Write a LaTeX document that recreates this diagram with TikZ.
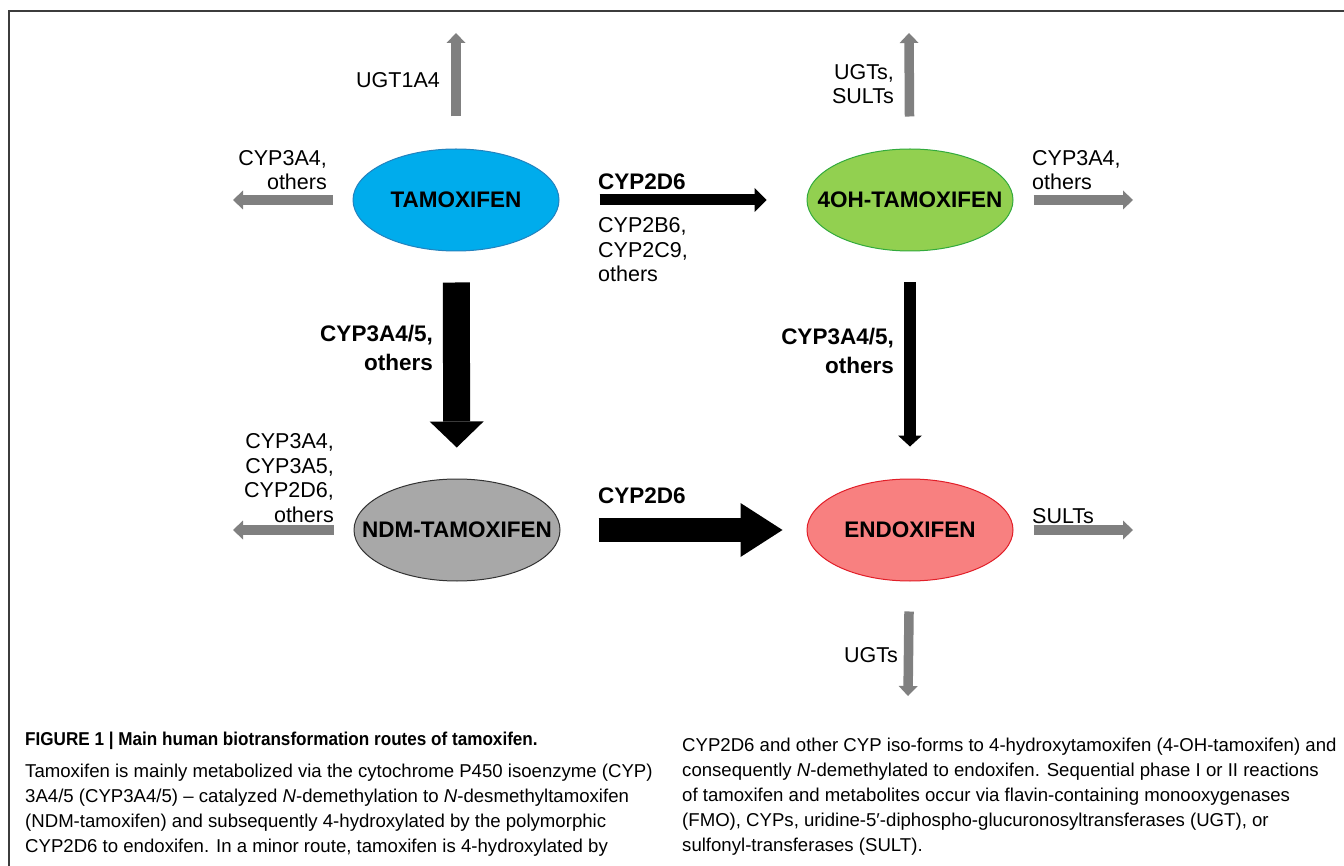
\documentclass[tikz,border=0pt]{standalone}
\usepackage{fontspec}
\setmainfont{Liberation Sans}
\usetikzlibrary{arrows.meta,shapes.geometric}

\definecolor{tamfill}{RGB}{0,172,236}
\definecolor{tamline}{RGB}{35,130,190}
\definecolor{ohfill}{RGB}{146,208,80}
\definecolor{ohline}{RGB}{50,170,60}
\definecolor{ndmfill}{RGB}{168,168,168}
\definecolor{endofill}{RGB}{248,128,128}
\definecolor{endoline}{RGB}{225,30,40}
\definecolor{sidegray}{RGB}{128,128,128}
\definecolor{framegray}{RGB}{60,60,60}

\tikzset{
  metab/.style={ellipse,draw,line width=1pt,minimum width=206pt,minimum height=102pt,
    inner xsep=-40pt,inner ysep=0pt,font=\fontsize{22.5}{27}\selectfont\bfseries},
  enz/.style={inner sep=0pt,align=right,font=\fontsize{21.5}{24.5}\selectfont},
  enzb/.style={inner sep=0pt,align=right,font=\fontsize{22.5}{28.5}\selectfont\bfseries},
  side/.style={draw=sidegray,line width=9.5pt,-{Triangle[width=19pt,length=10pt,line width=0pt]}},
  capt/.style={inner sep=0pt,align=left,font=\fontsize{18.6}{25}\selectfont}
}

\begin{document}
\begin{tikzpicture}[x=1pt,y=-1pt]

        \useasboundingbox (0,0) rectangle (1344,866);
        \draw[framegray,line width=1.5pt] (9,866) -- (9,11) -- (1344,11);

        \begin{scope}[every node/.style={metab}]
          \node[fill=tamfill,draw=tamline]   (tam)  at (456,200) {TAMOXIFEN};
          \node[fill=ohfill,draw=ohline]     (oh)   at (910,200) {4OH-TAMOXIFEN};
          \node[fill=ndmfill,draw=black!80]  (ndm)  at (457,530) {NDM-TAMOXIFEN};
          \node[fill=endofill,draw=endoline] (endo) at (910,530) {ENDOXIFEN};
        \end{scope}

        \coordinate (tamup)    at (456,33);
        \coordinate (tamleft)  at (233,200);
        \coordinate (ohup)     at (909,33);
        \coordinate (ohright)  at (1133,200);
        \coordinate (ndmleft)  at (233,530);
        \coordinate (endoright) at (1133,530);
        \coordinate (endodown) at (908,696);

        \begin{scope}[every path/.style={side}]
          \path[shorten <=32pt] (tam)  edge (tamup);
          \path[shorten <=20pt] (tam)  edge (tamleft);
          \path[shorten <=32pt] (oh)   edge (ohup);
          \path[shorten <=20pt] (oh)   edge (ohright);
          \path[shorten <=20pt] (ndm)  edge (ndmleft);
          \path[shorten <=20pt] (endo) edge (endoright);
          \path[shorten <=30pt] (endo) edge (endodown);
        \end{scope}

        \draw[line width=11pt,shorten <=40pt,shorten >=40pt,-{Triangle[width=24pt,length=12pt,line width=0pt]}] (tam) -- (oh);
        \draw[line width=27pt,shorten <=31pt,shorten >=31pt,-{Triangle[width=54pt,length=26pt,line width=0pt]}] (tam) -- (ndm);
        \draw[line width=12pt,shorten <=31pt,shorten >=32pt,-{Triangle[width=24pt,length=11pt,line width=0pt]}] (oh) -- (endo);
        \draw[line width=24pt,shorten <=38pt,shorten >=24pt,-{Triangle[width=54pt,length=42pt,line width=0pt]}] (ndm) -- (endo);

        \begin{scope}[every node/.style={enz}]
          \node[anchor=east] (ugtone)   at (440,80)  {UGT1A4};
          \node[anchor=east] (ugtsults) at (894,84)  {UGTs,\\SULTs};
          \node[anchor=east] (tamother) at (327,170) {CYP3A4,\\others};
          \node[anchor=west,align=left] (ohother) at (1032,170) {CYP3A4,\\others};
          \node[anchor=west,align=left] (minor)   at (598,250) {CYP2B6,\\CYP2C9,\\others};
          \node[anchor=east] (ndmother) at (334,478) {CYP3A4,\\CYP3A5,\\CYP2D6,\\others};
          \node[anchor=west] (sults)    at (1032,516) {SULTs};
          \node[anchor=east] (ugts)     at (898,655) {UGTs};
        \end{scope}

        \begin{scope}[every node/.style={enzb}]
          \node[anchor=west] (twodsixa) at (598,182) {CYP2D6};
          \node[anchor=west] (twodsixb) at (598,496) {CYP2D6};
          \node[anchor=east] (threealeft)  at (433,348) {CYP3A4/5,\\others};
          \node[anchor=east] (threearight) at (894,351) {CYP3A4/5,\\others};
        \end{scope}

        \begin{scope}[every node/.style={capt}]
          \node[anchor=west] (capttitle) at (25,741) {\scalebox{0.92}[1]{\bfseries FIGURE 1 | Main human biotransformation routes of tamoxifen.}};
          \node[anchor=west] (captleft) at (25,810) {Tamoxifen is mainly metabolized via the cytochrome P450 isoenzyme (CYP)\\
            3A4/5 (CYP3A4/5) – catalyzed \textit{N}-demethylation to \textit{N}-desmethyltamoxifen\\
            (NDM-tamoxifen) and subsequently 4-hydroxylated by the polymorphic\\
            CYP2D6 to endoxifen. In a minor route, tamoxifen is 4-hydroxylated by};
          \node[anchor=west] (captright) at (682,797) {CYP2D6 and other CYP iso-forms to 4-hydroxytamoxifen (4-OH-tamoxifen) and\\
            consequently \textit{N}-demethylated to endoxifen. Sequential phase I or II reactions\\
            of tamoxifen and metabolites occur via flavin-containing monooxygenases\\
            (FMO), CYPs, uridine-5′-diphospho-glucuronosyltransferases (UGT), or\\
            sulfonyl-transferases (SULT).};
        \end{scope}

      \end{tikzpicture}
\end{document}
